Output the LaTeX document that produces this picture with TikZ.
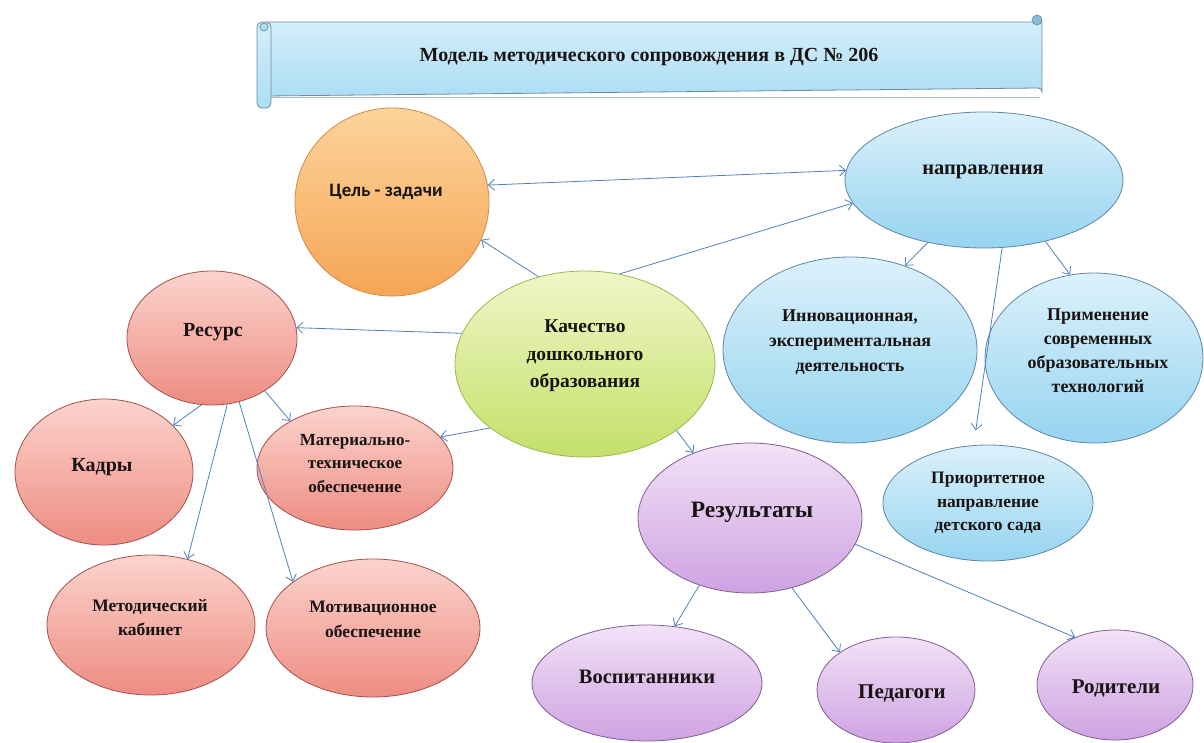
\documentclass[tikz,border=0pt]{standalone}
\usepackage{fontspec}
\setmainfont{Liberation Serif}
\newfontfamily\calib{Carlito}
\usetikzlibrary{shapes.geometric,arrows.meta}
\definecolor{arrc}{RGB}{79,129,189}
\definecolor{txt}{RGB}{25,20,20}
\definecolor{blueT}{RGB}{220,241,251}
\definecolor{blueB}{RGB}{150,212,240}
\definecolor{blueD}{RGB}{95,135,165}
\definecolor{pinkT}{RGB}{251,212,205}
\definecolor{pinkB}{RGB}{238,140,130}
\definecolor{pinkD}{RGB}{165,80,75}
\definecolor{purT}{RGB}{242,226,247}
\definecolor{purB}{RGB}{206,162,226}
\definecolor{purD}{RGB}{125,95,145}
\definecolor{grnT}{RGB}{240,246,200}
\definecolor{grnB}{RGB}{196,224,105}
\definecolor{grnD}{RGB}{155,185,80}
\definecolor{orT}{RGB}{252,212,155}
\definecolor{orB}{RGB}{245,165,85}
\definecolor{orD}{RGB}{210,140,70}
\definecolor{banT}{RGB}{212,238,250}
\definecolor{banB}{RGB}{172,222,244}
\definecolor{banD}{RGB}{110,140,160}
\tikzset{
  bub/.style={ellipse, line width=0.8pt, inner sep=0pt},
  sz/.style 2 args={minimum width=#1, minimum height=#2},
  fs/.style 2 args={align=center, inner sep=0pt, text=txt, font=\fontsize{#1}{#2}\selectfont\bfseries},
  bluebub/.style={bub, draw=blueD, top color=blueT, bottom color=blueB},
  pinkbub/.style={bub, draw=pinkD, top color=pinkT, bottom color=pinkB},
  purbub/.style={bub, draw=purD, top color=purT, bottom color=purB},
  grnbub/.style={bub, draw=grnD, top color=grnT, bottom color=grnB},
  orbub/.style={bub, draw=orD, top color=orT, bottom color=orB},
  arr/.style={draw=arrc, line width=0.8pt, -{Straight Barb[length=6pt,width=11pt]}},
  darr/.style={draw=arrc, line width=0.8pt, {Straight Barb[length=6pt,width=11pt]}-{Straight Barb[length=6pt,width=11pt]}}
}
\begin{document}
\begin{tikzpicture}[x=1pt,y=-1pt]
\useasboundingbox (0,0) rectangle (1204,742);
\fill[white] (0,0) rectangle (1204,742);
% banner (scroll)
\path[draw=banD, line width=0.8pt, top color=banT, bottom color=banB]
  (266,22) -- (1042,22) -- (1042,92) arc[start angle=0, end angle=-90, radius=4] -- (266,96) -- cycle;
\draw[banD!60, line width=1.2pt] (270,97.5) -- (1040,97.5);
\path[draw=banD, line width=0.8pt, top color=banT, bottom color=banB, rounded corners=5pt]
  (257,22) rectangle (271,108);
\draw[banD, line width=0.7pt, fill=banB] (264,27) circle[radius=4];
\draw[banD, line width=0.7pt, fill=blueB!70!blueD] (1037,20) circle[radius=5];
\node[fs={20}{24}] (title) at (649,57) {Модель методического сопровождения в ДС № 206};
% bubbles
\node[orbub, sz={194pt}{188pt}] (cel) at (392,202) {};
\node[bluebub, sz={278pt}{136pt}] (napr) at (984,180) {};
\node[grnbub, sz={260pt}{186pt}] (kach) at (585,364) {};
\node[pinkbub, sz={170pt}{134pt}] (res) at (212,338) {};
\node[pinkbub, sz={178pt}{146pt}] (kadry) at (104,472) {};
\node[pinkbub, sz={196pt}{124pt}] (mat) at (355,468) {};
\node[pinkbub, sz={208pt}{140pt}] (metod) at (151,625) {};
\node[pinkbub, sz={214pt}{138pt}] (motiv) at (373,628) {};
\node[bluebub, sz={254pt}{186pt}] (innov) at (850,350) {};
\node[bluebub, sz={218pt}{170pt}] (prim) at (1094,358) {};
\node[bluebub, sz={210pt}{116pt}] (prior) at (988,503) {};
\node[purbub, sz={224pt}{150pt}] (rez) at (750,518) {};
\node[purbub, sz={230pt}{116pt}] (vosp) at (647,683) {};
\node[purbub, sz={158pt}{106pt}] (ped) at (896,690) {};
\node[purbub, sz={156pt}{110pt}] (rod) at (1115,685) {};
% texts
\node[fs={19}{23}, font=\calib\fontsize{19}{23}\selectfont\bfseries] (celT) at (386,192) {Цель - задачи};
\node[fs={20.5}{25}] (naprT) at (983,172) {направления};
\node[fs={19.5}{27.5}] (kachT) at (585,356) {Качество\\дошкольного\\образования};
\node[fs={20}{24}] (resT) at (213,332) {Ресурс};
\node[fs={20}{24}] (kadryT) at (102,467) {Кадры};
\node[fs={17}{23.5}] (matT) at (355,463.5) {Материально-\\техническое\\обеспечение};
\node[fs={17.5}{24}] (metodT) at (150,618) {Методический\\кабинет};
\node[fs={17.5}{25}] (motivT) at (373,619.5) {Мотивационное\\обеспечение};
\node[fs={18}{25}] (innovT) at (850,342) {Инновационная,\\экспериментальная\\деятельность};
\node[fs={18}{24}] (primT) at (1098,351) {Применение\\современных\\образовательных\\технологий};
\node[fs={17.5}{23.5}] (priorT) at (988,503) {Приоритетное\\направление\\детского сада};
\node[fs={23.5}{28}] (rezT) at (752,512) {Результаты};
\node[fs={20.5}{25}] (vospT) at (647,677) {Воспитанники};
\node[fs={21}{25}] (pedT) at (902,693) {Педагоги};
\node[fs={21}{25}] (rodT) at (1116,688) {Родители};
% connectors
\draw[darr] (cel.10) -- (napr.176);
\draw[arr] (kach.69) -- (napr.190);
\draw[arr] (kach.118) -- (cel.337);
\draw[arr] (kach.166) -- (res.7);
\draw[arr] (kach.214) -- (mat.20);
\draw[arr] (kach.324) -- (rez.131);
\draw[arr] (res.261) -- (kadry.34);
\draw[arr] (res.315) -- (mat.144);
\draw[arr] (res.283) -- (metod.61);
\draw[arr] (res.293) -- (motiv.150);
\draw[arr] (napr.228) -- (innov.57);
\draw[arr] (napr.315) -- (prim.106);
\draw[arr, shorten >=15pt] (napr.285) -- (prior.104);
\draw[arr] (rez.233) -- (vosp.64);
\draw[arr] (rez.301) -- (ped.146);
\draw[arr] (rez.346) -- (rod.130);
\end{tikzpicture}
\end{document}
